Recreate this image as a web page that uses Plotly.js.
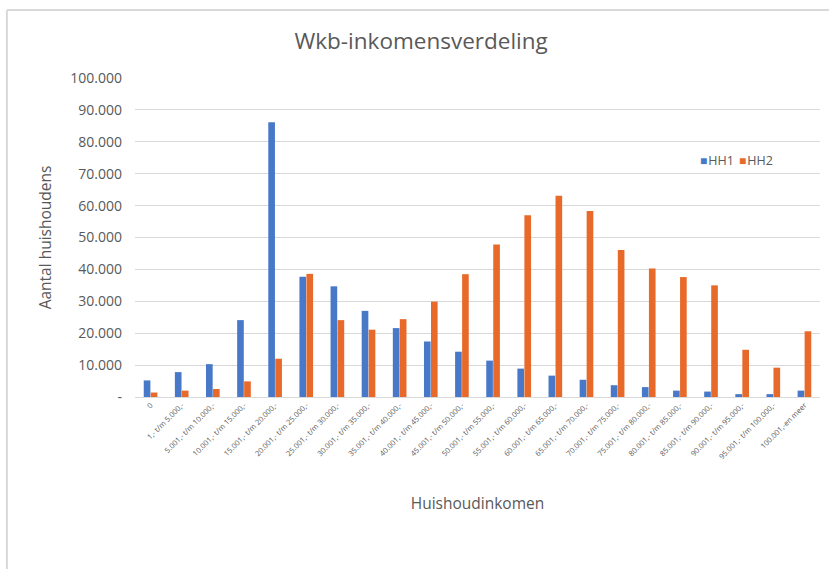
<!DOCTYPE html>
<html>
<head>
<meta charset="utf-8">
<script src="https://cdn.plot.ly/plotly-3.0.1.min.js"></script>
<style>html,body{margin:0;padding:0;background:#fff;}#chart{width:829px;height:569px;}</style>
</head>
<body>
<div id="chart"></div>
<script>
const categories = ["0", "1,- t/m 5.000,-", "5.001,- t/m 10.000,-", "10.001,- t/m 15.000,-", "15.001,- t/m 20.000,-", "20.001,- t/m 25.000,-", "25.001,- t/m 30.000,-", "30.001,- t/m 35.000,-", "35.001,- t/m 40.000,-", "40.001,- t/m 45.000,-", "45.001,- t/m 50.000,-", "50.001,- t/m 55.000,-", "55.001,- t/m 60.000,-", "60.001,- t/m 65.000,-", "65.001,- t/m 70.000,-", "70.001,- t/m 75.000,-", "75.001,- t/m 80.000,-", "80.001,- t/m 85.000,-", "85.001,- t/m 90.000,-", "90.001,- t/m 95.000,-", "95.001,- t/m 100.000,-", "100.001,-en meer"];
const hh1 = [5200, 7800, 10300, 24100, 86100, 37700, 34700, 27000, 21600, 17400, 14200, 11400, 8900, 6700, 5400, 3700, 3100, 2000, 1700, 900, 900, 2000];
const hh2 = [1400, 2000, 2500, 4900, 12000, 38600, 24100, 21100, 24400, 29900, 38500, 47800, 57000, 63100, 58300, 46100, 40300, 37600, 35000, 14800, 9200, 20600];
const yTickVals = [0, 10000, 20000, 30000, 40000, 50000, 60000, 70000, 80000, 90000, 100000];
const yTickText = ["-", "10.000", "20.000", "30.000", "40.000", "50.000", "60.000", "70.000", "80.000", "90.000", "100.000"];
const seriesNames = ["HH1", "HH2"];
const seriesColors = ["#4878c8", "#e86a2b"];

const FONT = "Open Sans, Liberation Sans, sans-serif";
const data = [
  {type: "bar", name: seriesNames[0], x: categories, y: hh1, marker: {color: seriesColors[0]}},
  {type: "bar", name: seriesNames[1], x: categories, y: hh2, marker: {color: seriesColors[1]}}
];
// compact Excel-style legend drawn as annotations
const legendX = [698, 737];
const annotations = seriesNames.map((n, i) => ({
  xref: "paper", yref: "paper",
  x: (legendX[i] - 135) / 685, y: (397 - 160) / 319,
  xanchor: "left", yanchor: "middle", showarrow: false,
  text: "<span style='color:" + seriesColors[i] + ";font-size:12px'>■</span><span style='font-size:4px'> </span>" + n,
  font: {family: FONT, size: 12.5, color: "#595959"}
}));
const layout = {
  width: 829, height: 569,
  margin: {l: 135, r: 9, t: 78, b: 172},
  paper_bgcolor: "#fff", plot_bgcolor: "#fff",
  font: {family: FONT, color: "#595959"},
  title: {text: "Wkb-inkomensverdeling", x: 0.508, xanchor: "center", y: 0.928, yanchor: "middle",
          font: {family: FONT, size: 22.5, color: "#595959"}},
  barmode: "group", bargap: 0.55, bargroupgap: 0.05,
  showlegend: false,
  annotations: annotations,
  xaxis: {
    type: "category", tickangle: -45, tickfont: {family: FONT, size: 7.5, color: "#595959"},
    showgrid: false, showline: true, linecolor: "#d9d9d9", linewidth: 1, ticks: "",
    title: {text: "Huishoudinkomen", font: {family: FONT, size: 15.5, color: "#595959"}, standoff: 38}
  },
  yaxis: {
    range: [0, 100000], tickvals: yTickVals, ticktext: yTickText,
    tickfont: {family: FONT, size: 14, color: "#595959"}, ticklabelstandoff: 12,
    showgrid: true, gridcolor: "#d9d9d9", gridwidth: 1, zeroline: false, showline: false,
    ticks: "", ticklen: 0,
    title: {text: "Aantal huishoudens", font: {family: FONT, size: 15.5, color: "#595959"}, standoff: 14}
  },
  shapes: [
    {type: "line", xref: "paper", yref: "paper", x0: -0.187, x1: -0.187, y0: 1.213, y1: -0.6, line: {color: "#d9d9d9", width: 2}},
    {type: "line", xref: "paper", yref: "paper", x0: -0.187, x1: 1.1, y0: 1.213, y1: 1.213, line: {color: "#d9d9d9", width: 2}}
  ]
};
Plotly.newPlot("chart", data, layout, {displayModeBar: false, staticPlot: true});
</script>
</body>
</html>
